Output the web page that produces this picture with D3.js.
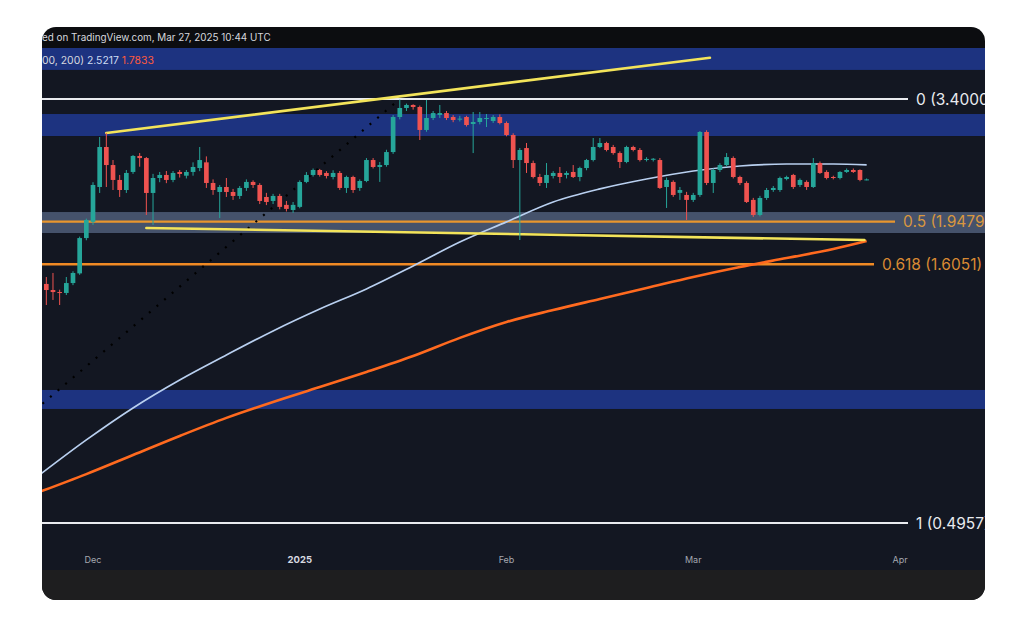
<!DOCTYPE html>
<html><head><meta charset="utf-8">
<script src="https://cdn.jsdelivr.net/npm/d3@7"></script>
<style>html,body{margin:0;padding:0;background:#fff;}svg{display:block;font-family:Inter,"Noto Sans",sans-serif;}</style>
</head><body><svg id="c" width="1024" height="643"></svg>
<script>
// ---- DATA ----
const candles = [
["2024-11-24",1.468,1.515,1.334,1.428],["2024-11-25",1.428,1.543,1.365,1.415],["2024-11-26",1.415,1.430,1.334,1.409],
["2024-11-27",1.409,1.515,1.396,1.474],["2024-11-28",1.474,1.555,1.460,1.543],["2024-11-29",1.540,1.820,1.530,1.808],
["2024-11-30",1.808,1.975,1.790,1.963],["2024-12-01",1.946,2.330,1.920,2.301],["2024-12-02",2.280,2.861,2.219,2.734],
["2024-12-03",2.734,2.914,2.280,2.519],["2024-12-04",2.519,2.577,2.249,2.354],["2024-12-05",2.354,2.408,2.179,2.249],
["2024-12-06",2.249,2.463,2.219,2.430],["2024-12-07",2.441,2.636,2.420,2.625],["2024-12-08",2.625,2.660,2.500,2.600],
["2024-12-09",2.600,2.612,2.008,2.219],["2024-12-10",2.219,2.420,1.919,2.375],["2024-12-11",2.375,2.441,2.330,2.408],
["2024-12-12",2.408,2.452,2.320,2.354],["2024-12-13",2.354,2.452,2.330,2.430],["2024-12-14",2.441,2.463,2.380,2.419],
["2024-12-15",2.400,2.463,2.370,2.441],["2024-12-16",2.441,2.550,2.400,2.497],["2024-12-17",2.485,2.734,2.450,2.577],
["2024-12-18",2.550,2.620,2.270,2.322],["2024-12-19",2.322,2.360,2.200,2.249],["2024-12-20",2.229,2.300,1.980,2.280],
["2024-12-21",2.280,2.375,2.179,2.229],["2024-12-22",2.229,2.260,2.150,2.189],["2024-12-23",2.189,2.290,2.160,2.270],
["2024-12-24",2.270,2.360,2.240,2.333],["2024-12-25",2.333,2.350,2.270,2.301],["2024-12-26",2.301,2.320,2.110,2.140],
["2024-12-27",2.179,2.220,2.100,2.130],["2024-12-28",2.140,2.210,2.110,2.189],["2024-12-29",2.189,2.210,2.060,2.083],
["2024-12-30",2.102,2.140,2.040,2.064],["2024-12-31",2.054,2.130,2.027,2.102],["2025-01-01",2.083,2.350,2.070,2.333],
["2025-01-02",2.333,2.440,2.320,2.408],["2025-01-03",2.408,2.480,2.390,2.463],["2025-01-04",2.463,2.475,2.390,2.408],
["2025-01-05",2.430,2.450,2.370,2.397],["2025-01-06",2.386,2.460,2.360,2.430],["2025-01-07",2.430,2.452,2.250,2.270],
["2025-01-08",2.270,2.400,2.219,2.386],["2025-01-09",2.386,2.400,2.220,2.249],["2025-01-10",2.270,2.360,2.240,2.343],
["2025-01-11",2.343,2.600,2.330,2.577],["2025-01-12",2.577,2.600,2.480,2.497],["2025-01-13",2.497,2.554,2.333,2.519],
["2025-01-14",2.519,2.700,2.500,2.672],["2025-01-15",2.672,3.160,2.650,3.133],["2025-01-16",3.133,3.390,3.100,3.264],
["2025-01-17",3.264,3.330,3.220,3.309],["2025-01-18",3.309,3.320,3.240,3.279],["2025-01-19",3.279,3.300,2.822,2.954],
["2025-01-20",2.954,3.385,2.930,3.119],["2025-01-21",3.119,3.220,3.090,3.190],["2025-01-22",3.162,3.309,3.120,3.190],
["2025-01-23",3.190,3.220,3.090,3.119],["2025-01-24",3.133,3.160,3.060,3.091],["2025-01-25",3.100,3.150,3.070,3.110],
["2025-01-26",3.133,3.150,3.000,3.021],["2025-01-27",3.035,3.205,2.660,3.063],["2025-01-28",3.063,3.205,3.030,3.119],
["2025-01-29",3.105,3.176,2.994,3.119],["2025-01-30",3.077,3.160,3.050,3.133],["2025-01-31",3.133,3.170,3.030,3.049],
["2025-02-01",3.049,3.070,2.870,2.887],["2025-02-02",2.887,2.910,2.485,2.577],["2025-02-03",2.577,2.721,1.792,2.697],
["2025-02-04",2.721,2.784,2.430,2.542],["2025-02-05",2.542,2.570,2.370,2.386],["2025-02-06",2.386,2.420,2.290,2.322],
["2025-02-07",2.322,2.542,2.270,2.408],["2025-02-08",2.397,2.450,2.370,2.430],["2025-02-09",2.430,2.497,2.322,2.386],
["2025-02-10",2.408,2.450,2.370,2.430],["2025-02-11",2.441,2.519,2.375,2.386],["2025-02-12",2.386,2.500,2.340,2.485],
["2025-02-13",2.485,2.590,2.460,2.577],["2025-02-14",2.577,2.848,2.560,2.734],["2025-02-15",2.734,2.848,2.720,2.784],
["2025-02-16",2.784,2.800,2.680,2.697],["2025-02-17",2.734,2.760,2.640,2.660],["2025-02-18",2.660,2.680,2.485,2.554],
["2025-02-19",2.554,2.750,2.540,2.734],["2025-02-20",2.734,2.750,2.680,2.697],["2025-02-21",2.697,2.720,2.560,2.577],
["2025-02-22",2.577,2.610,2.560,2.590],["2025-02-23",2.580,2.600,2.560,2.592],["2025-02-24",2.577,2.600,2.260,2.270],
["2025-02-25",2.280,2.380,2.073,2.354],["2025-02-26",2.333,2.350,2.180,2.199],["2025-02-27",2.220,2.280,2.150,2.249],
["2025-02-28",2.199,2.230,1.963,2.150],["2025-03-01",2.150,2.220,2.130,2.199],["2025-03-02",2.199,2.940,2.180,2.927],
["2025-03-03",2.927,2.950,2.300,2.322],["2025-03-04",2.322,2.480,2.219,2.463],["2025-03-05",2.463,2.540,2.440,2.519],
["2025-03-06",2.519,2.660,2.500,2.612],["2025-03-07",2.601,2.620,2.370,2.386],["2025-03-08",2.386,2.400,2.300,2.322],
["2025-03-09",2.322,2.340,2.120,2.130],["2025-03-10",2.150,2.170,1.990,2.008],["2025-03-11",2.008,2.190,1.995,2.169],
["2025-03-12",2.169,2.270,2.150,2.249],["2025-03-13",2.249,2.290,2.230,2.270],["2025-03-14",2.249,2.390,2.230,2.375],
["2025-03-15",2.364,2.400,2.350,2.386],["2025-03-16",2.408,2.420,2.260,2.280],["2025-03-17",2.301,2.370,2.280,2.354],
["2025-03-18",2.333,2.350,2.250,2.280],["2025-03-19",2.280,2.601,2.270,2.542],["2025-03-20",2.542,2.560,2.420,2.430],
["2025-03-21",2.441,2.460,2.360,2.375],["2025-03-22",2.386,2.400,2.360,2.375],["2025-03-23",2.375,2.450,2.360,2.441],
["2025-03-24",2.441,2.480,2.430,2.463],["2025-03-25",2.463,2.480,2.430,2.441],["2025-03-26",2.463,2.470,2.340,2.354],
["2025-03-27",2.354,2.370,2.350,2.360]
];
const maDates = ["2024-11-23","2024-11-30","2024-12-07","2024-12-14","2024-12-21","2024-12-28","2025-01-04","2025-01-11",
  "2025-01-18","2025-01-25","2025-02-01","2025-02-08","2025-02-15","2025-02-22","2025-03-01","2025-03-08","2025-03-15","2025-03-22","2025-03-27"];
const maFast = [0.617,0.723,0.836,0.949,1.063,1.186,1.310,1.435,1.593,1.776,1.946,2.130,2.260,2.364,2.452,2.508,2.531,2.531,2.5217];
const maSlow = [0.571,0.619,0.675,0.736,0.799,0.859,0.919,0.984,1.058,1.149,1.235,1.304,1.371,1.441,1.515,1.585,1.651,1.720,1.7833];
const fibRatios = ["0","0.5","0.618","1"];
const fibPrices = [3.4000,1.9479,1.6051,0.4957];
const blueZones = [[3.88,4.60],[2.874,3.176],[0.832,0.907]];
const greyZone = [1.850,2.035];
const upperTrend = [["2024-12-03T00:00Z",2.914],["2025-03-03T12:00Z",4.10]];
const lowerTrend = [["2024-12-09T00:00Z",1.893],["2025-03-26T16:00Z",1.792]];
const dottedTrend = [["2024-11-20T00:00Z",0.78],["2025-01-16T00:00Z",3.40]];
const monthTicks = ["2024-12-01","2025-01-01","2025-02-01","2025-03-01","2025-04-01"];
const monthLabels = ["Dec","2025","Feb","Mar","Apr"];
const legendParts = ["00, 200)","2.5217","1.7833"];
const headerText = "ed on TradingView.com, Mar 27, 2025 10:44 UTC";

// ---- LAYOUT ----
const svg = d3.select("#c");
const card = {x:42,y:27,w:943,h:573};
const plot = {l:42,r:985,t:48,b:545};
const defs = svg.append("defs");
defs.append("clipPath").attr("id","cardClip").append("rect")
  .attr("x",card.x).attr("y",card.y).attr("width",card.w).attr("height",card.h).attr("rx",14);
defs.append("clipPath").attr("id","plotClip").append("rect")
  .attr("x",plot.l).attr("y",plot.t).attr("width",plot.r-plot.l).attr("height",plot.b-plot.t);

const P = d => new Date(d.length===10 ? d+"T00:00:00Z" : d);
const x = d3.scaleUtc().domain([P("2024-12-01"),P("2025-04-01")]).range([93,900]);
const y = d3.scaleLog().domain([0.4957,3.4]).range([523,99]);

const root = svg.append("g").attr("clip-path","url(#cardClip)");
root.append("rect").attr("x",card.x).attr("y",card.y).attr("width",card.w).attr("height",card.h).attr("fill","#0c0d10");
root.append("rect").attr("x",card.x).attr("y",plot.t).attr("width",card.w).attr("height",570-plot.t).attr("fill","#131722");
root.append("rect").attr("x",card.x).attr("y",570).attr("width",card.w).attr("height",card.y+card.h-570).attr("fill","#1e1e1f");

const g = root.append("g").attr("clip-path","url(#plotClip)");
// zones
g.selectAll(".bz").data(blueZones).join("rect")
  .attr("x",plot.l).attr("width",plot.r-plot.l)
  .attr("y",d=>y(d[1])).attr("height",d=>y(d[0])-y(d[1])).attr("fill","#1d3380");
g.append("rect").attr("x",plot.l).attr("width",plot.r-plot.l)
  .attr("y",y(greyZone[1])).attr("height",y(greyZone[0])-y(greyZone[1])).attr("fill","#45526b");

// fib lines + labels
const fibCol = ["#e9ebef","#e8962e","#f08a24","#e9ebef"];
const labCol = ["#e9ebef","#d9973f","#d98a33","#e9ebef"];
const labelX = [916,903,882,916];
const lineEnd = [908,895,874,908];
fibPrices.forEach((p,i)=>{
  g.append("line").attr("x1",plot.l).attr("x2",lineEnd[i]).attr("y1",y(p)).attr("y2",y(p))
    .attr("stroke",fibCol[i]).attr("stroke-width",i===2?2.6:2.2);
  root.append("text").attr("x",labelX[i]).attr("y",y(p)).attr("dy","0.36em")
    .attr("font-size",15.5).attr("fill",labCol[i])
    .text(fibRatios[i]+" ("+p.toFixed(4)+")");
});

// moving averages
const maLine = d3.line().x((d,i)=>x(P(maDates[i]))).y(d=>y(d)).curve(d3.curveMonotoneX);
g.append("path").attr("d",maLine(maSlow)).attr("fill","none").attr("stroke","#ff6a1f").attr("stroke-width",2.6);
g.append("path").attr("d",maLine(maFast)).attr("fill","none").attr("stroke","#b9d0f0").attr("stroke-width",1.7);

// trend lines
const tl = d3.line().x(d=>x(P(d[0]))).y(d=>y(d[1]));
g.append("path").attr("d",tl(dottedTrend)).attr("stroke","#000").attr("stroke-width",2.2).attr("stroke-dasharray","2,8").attr("fill","none");
[upperTrend,lowerTrend].forEach(t=>{
  g.append("path").attr("d",tl(t)).attr("stroke","#f3e45a").attr("stroke-width",2.6).attr("fill","none").attr("stroke-linecap","round");
});

// candles
const dayW = x(P("2024-12-02"))-x(P("2024-12-01"));
const bw = dayW*0.7;
const cg = g.append("g");
candles.forEach(c=>{
  const [d,o,h,l,cl] = c;
  const cx = x(P(d)), up = cl>=o, col = up?"#26a69a":"#ef5350";
  cg.append("line").attr("x1",cx).attr("x2",cx).attr("y1",y(h)).attr("y2",y(l)).attr("stroke",col).attr("stroke-width",1);
  const top = y(Math.max(o,cl)), bot = y(Math.min(o,cl));
  cg.append("rect").attr("x",cx-bw/2).attr("width",bw).attr("y",top).attr("height",Math.max(1,bot-top)).attr("fill",col);
});

// x axis labels
monthTicks.forEach((m,i)=>{
  root.append("text").attr("x",x(P(m))).attr("y",560).attr("dy","0.35em").attr("text-anchor","middle")
    .attr("font-size",i===1?9.5:9).attr("font-weight",i===1?700:400)
    .attr("fill",i===1?"#d8dae0":"#a4a7b0").text(monthLabels[i]);
});

// header + legend
root.append("text").attr("x",42).attr("y",38).attr("dy","0.35em").attr("font-size",9.9).attr("fill","#d6d8de").text(headerText);
const lg = root.append("text").attr("x",42).attr("y",60).attr("dy","0.35em").attr("font-size",10.4);
lg.append("tspan").attr("fill","#d6d8de").text(legendParts[0]+" ");
lg.append("tspan").attr("fill","#cfdcf2").text(legendParts[1]+" ");
lg.append("tspan").attr("fill","#ff5a3c").text(legendParts[2]);
</script></body></html>
